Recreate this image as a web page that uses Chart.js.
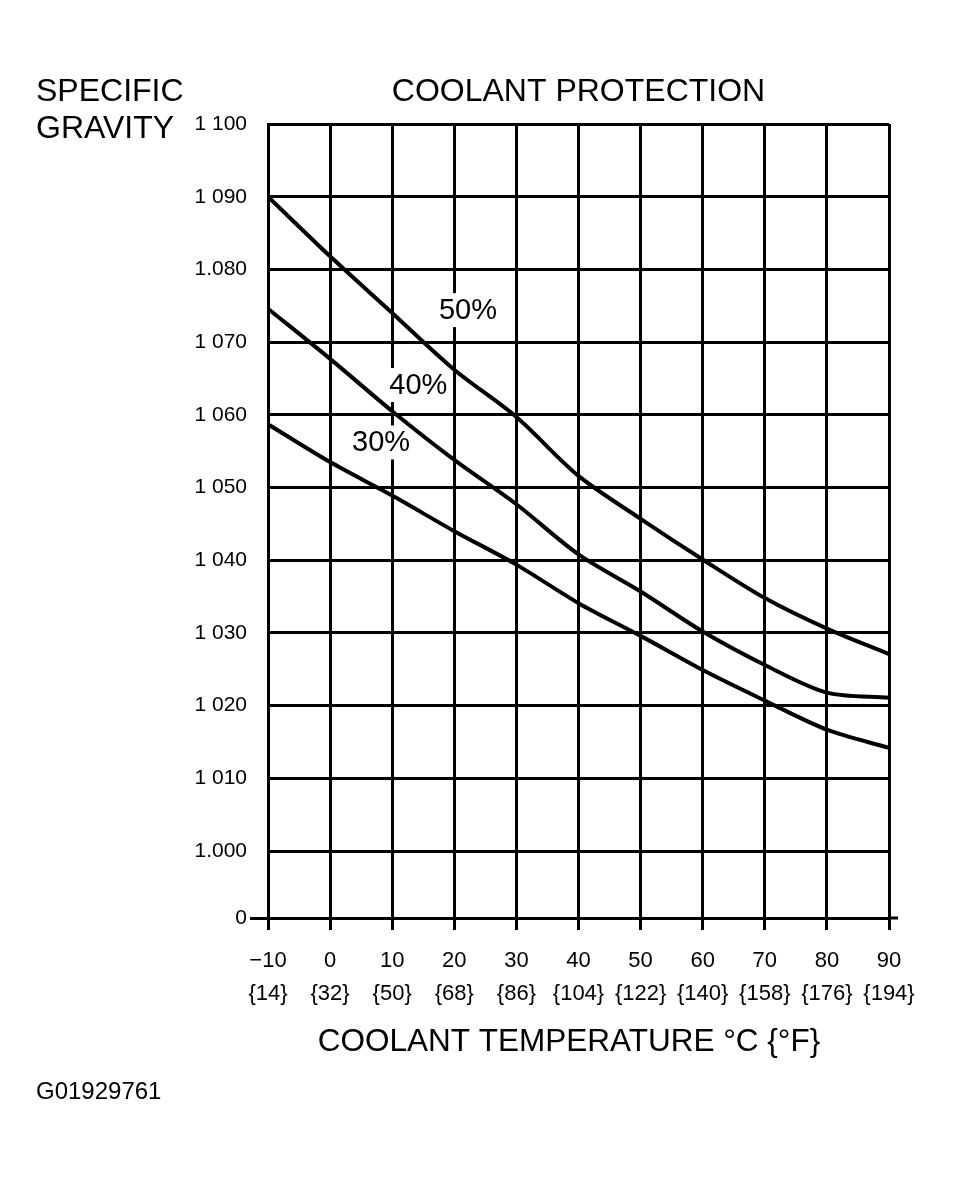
<!DOCTYPE html>
<html>
<head>
<meta charset="utf-8">
<title>Coolant Protection</title>
<script src="https://cdn.jsdelivr.net/npm/chart.js@4.4.1/dist/chart.umd.min.js"></script>
<style>
    html, body { margin: 0; padding: 0; background: #fff; }
    #wrap { width: 958px; height: 1177px; position: relative; }
</style>
</head>
<body>
<div id="wrap"><canvas id="chart" width="958" height="1177"></canvas></div>
<script>
// chart data
var temps = [-10, 0, 10, 20, 30, 40, 50, 60, 70, 80, 90];
var gravity50 = [1.0900, 1.0818, 1.0740, 1.0662, 1.0597, 1.0516, 1.0457, 1.0401, 1.0348, 1.0306, 1.0271];
var gravity40 = [1.0746, 1.0677, 1.0605, 1.0538, 1.0477, 1.0408, 1.0357, 1.0302, 1.0256, 1.0218, 1.0211];
var gravity30 = [1.0587, 1.0535, 1.0489, 1.0440, 1.0394, 1.0341, 1.0296, 1.0249, 1.0207, 1.0167, 1.0142];

var xTickLabelsC = ['\u221210', '0', '10', '20', '30', '40', '50', '60', '70', '80', '90'];
var xTickLabelsF = ['{14}', '{32}', '{50}', '{68}', '{86}', '{104}', '{122}', '{140}', '{158}', '{176}', '{194}'];

// the bottom "0" line sits on a broken axis just below 1.000
var yTickValues = [0.9908, 1.000, 1.010, 1.020, 1.030, 1.040, 1.050, 1.060, 1.070, 1.080, 1.090, 1.100];
var yTickLabels = ['0', '1.000', '1 010', '1 020', '1 030', '1 040', '1 050', '1 060', '1 070', '1.080', '1 090', '1 100'];

var seriesNames = ['50%', '40%', '30%'];

var FONT = '"Liberation Sans", Arial, Helvetica, sans-serif';

function toPoints(ys) {
    return ys.map((y, i) => ({ x: temps[i], y: y }));
}

// curve names sit inside the grid on a white patch, like the print
var curveLabels = {
    id: 'curveLabels',
    beforeDatasetsDraw(chart) {
        var ctx = chart.ctx;
        var xs = chart.scales.x, ys = chart.scales.y;
        var spots = [[22.2, 1.0744], [14.2, 1.0641], [8.2, 1.0562]];
        ctx.save();
        ctx.font = '29px ' + FONT;
        ctx.textAlign = 'center';
        ctx.textBaseline = 'middle';
        seriesNames.forEach((name, i) => {
            var px = xs.getPixelForValue(spots[i][0]);
            var py = ys.getPixelForValue(spots[i][1]);
            var w = ctx.measureText(name).width;
            ctx.fillStyle = '#fff';
            ctx.fillRect(px - w / 2 - 4, py - 17, w + 8, 34);
            ctx.fillStyle = '#000';
            ctx.fillText(name, px, py + 1);
        });
        ctx.restore();
    }
};

var headings = {
    id: 'headings',
    afterDraw(chart) {
        var ctx = chart.ctx;
        var area = chart.chartArea;
        ctx.save();
        ctx.fillStyle = '#000';
        ctx.textBaseline = 'alphabetic';

        ctx.font = '32px ' + FONT;
        ctx.textAlign = 'left';
        ctx.fillText('SPECIFIC', 36, 101);
        ctx.fillText('GRAVITY', 36, 138);

        ctx.textAlign = 'center';
        ctx.fillText('COOLANT PROTECTION', (area.left + area.right) / 2, 101);

        ctx.font = '31.5px ' + FONT;
        ctx.fillText('COOLANT TEMPERATURE \u00B0C {\u00B0F}', 569, 1051);

        ctx.font = '24px ' + FONT;
        ctx.textAlign = 'left';
        ctx.fillText('G01929761', 36, 1099);

        // the zero line runs a little past the last column
        ctx.strokeStyle = '#000';
        ctx.lineWidth = 3;
        ctx.beginPath();
        ctx.moveTo(area.right, area.bottom);
        ctx.lineTo(area.right + 9, area.bottom);
        ctx.stroke();
        ctx.restore();
    }
};

var lineStyle = {
    borderColor: '#000',
    backgroundColor: '#000',
    borderWidth: 4,
    pointRadius: 0,
    tension: 0.3,
    fill: false
};

new Chart(document.getElementById('chart').getContext('2d'), {
    type: 'line',
    data: {
        datasets: [
            Object.assign({ label: seriesNames[0], data: toPoints(gravity50) }, lineStyle),
            Object.assign({ label: seriesNames[1], data: toPoints(gravity40) }, lineStyle),
            Object.assign({ label: seriesNames[2], data: toPoints(gravity30) }, lineStyle)
        ]
    },
    options: {
        responsive: false,
        devicePixelRatio: 1,
        animation: false,
        layout: { padding: { top: 124, right: 69, bottom: 0, left: 0 } },
        plugins: {
            legend: { display: false },
            tooltip: { enabled: false }
        },
        scales: {
            x: {
                type: 'linear',
                min: -10,
                max: 90,
                afterBuildTicks: s => { s.ticks = temps.map(v => ({ value: v })); },
                afterFit: s => { s.height = 1177 - 918; },
                grid: { color: '#000', lineWidth: 3, tickLength: 12, tickColor: '#000', tickWidth: 3 },
                border: { display: true, color: '#000', width: 3 },
                ticks: {
                    color: '#000',
                    font: { family: FONT, size: 22, lineHeight: 1.5 },
                    padding: 14,
                    maxRotation: 0,
                    autoSkip: false,
                    callback: (v) => {
                        var i = temps.indexOf(v);
                        return i < 0 ? '' : [xTickLabelsC[i], xTickLabelsF[i]];
                    }
                }
            },
            y: {
                type: 'linear',
                min: yTickValues[0],
                max: yTickValues[yTickValues.length - 1],
                afterBuildTicks: s => { s.ticks = yTickValues.map(v => ({ value: v })); },
                afterFit: s => { s.width = 268; },
                grid: {
                    color: '#000',
                    lineWidth: 3,
                    tickLength: 18,
                    tickWidth: 3,
                    tickColor: c => (c.tick && c.tick.value === yTickValues[0]) ? '#000' : 'rgba(0,0,0,0)'
                },
                border: { display: true, color: '#000', width: 3 },
                ticks: {
                    color: '#000',
                    font: { family: FONT, size: 21 },
                    padding: 3,
                    autoSkip: false,
                    callback: (v) => {
                        var i = yTickValues.indexOf(v);
                        return i < 0 ? '' : yTickLabels[i];
                    }
                }
            }
        }
    },
    plugins: [curveLabels, headings]
});
</script>
</body>
</html>
